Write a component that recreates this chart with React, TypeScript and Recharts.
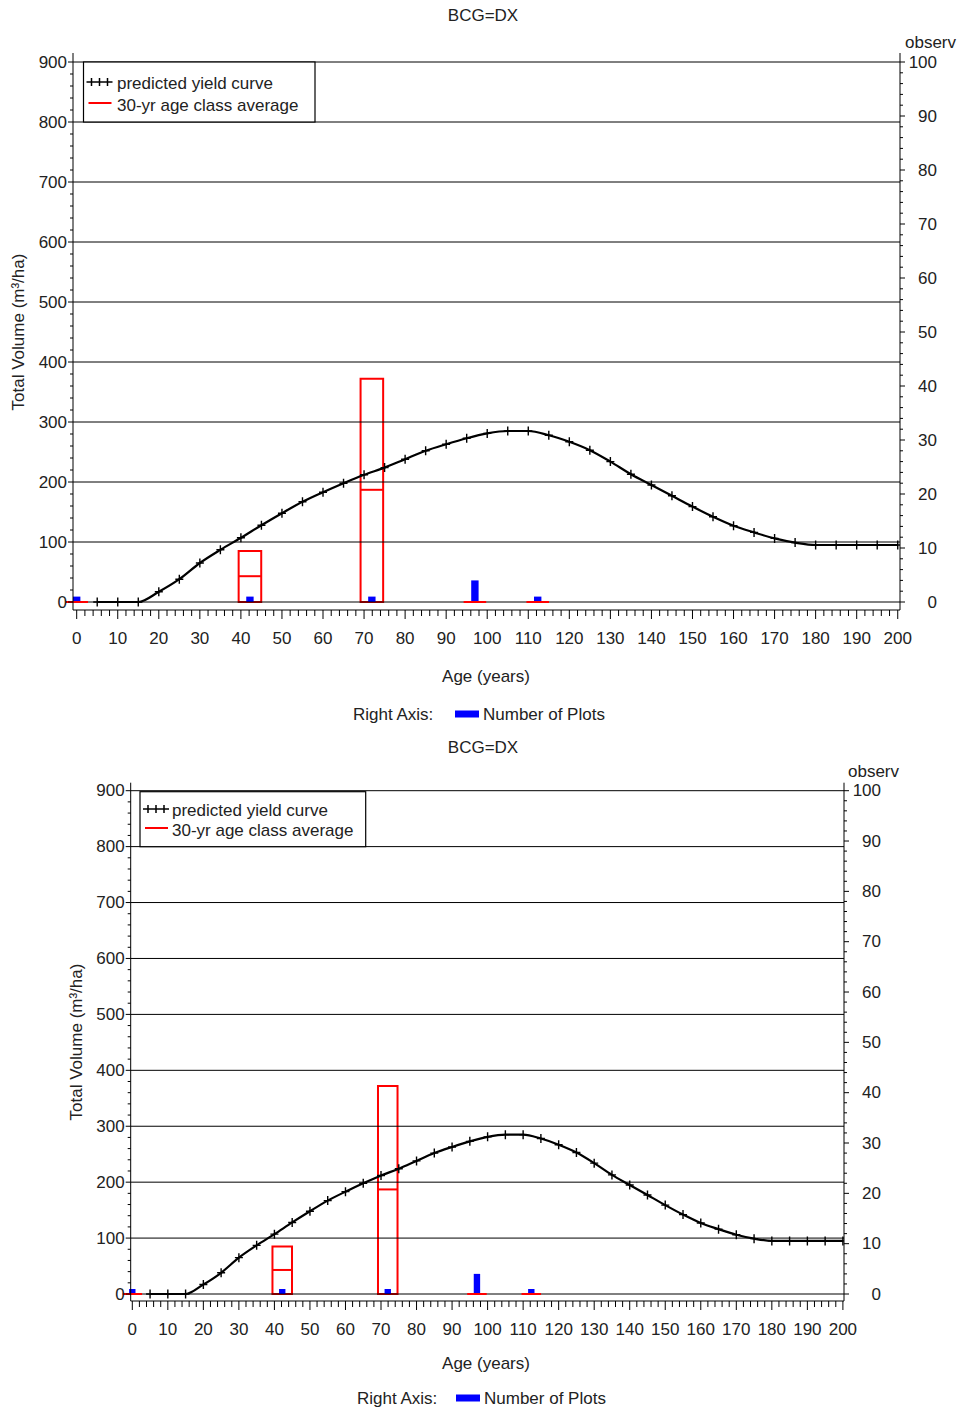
import React from 'react';
import { ComposedChart, Line, XAxis, YAxis, ReferenceLine, ReferenceArea } from 'recharts';

// predicted yield curve, one marker every 5 years
const ages = [5, 10, 15, 20, 25, 30, 35, 40, 45, 50, 55, 60, 65, 70, 75, 80, 85, 90, 95, 100, 105, 110, 115, 120, 125, 130, 135, 140, 145, 150, 155, 160, 165, 170, 175, 180, 185, 190, 195, 200];
const predictedVolume = [0, 0, 0, 17, 38, 65, 87, 107, 128, 148, 167, 183, 198, 212, 224, 238, 252, 263, 273, 281, 285, 285, 278, 267, 253, 234, 213, 195, 177, 159, 142, 127, 116, 106, 99, 95, 95, 95, 95, 95];

// 30-yr age class boxes (left axis) and plot counts (right axis)
const classAges = [0, 42.2, 71.9, 97, 112.3];
const classLow = [0, 0, 0, 0, 0];
const classHigh = [0, 85, 372, 0, 0];
const classMean = [0, 43, 187, 0, 0];
const plotCounts = [1, 1, 1, 4, 1];

const xTickLabels = [0, 10, 20, 30, 40, 50, 60, 70, 80, 90, 100, 110, 120, 130, 140, 150, 160, 170, 180, 190, 200];
const leftTickLabels = [0, 100, 200, 300, 400, 500, 600, 700, 800, 900];
const rightTickLabels = [0, 10, 20, 30, 40, 50, 60, 70, 80, 90, 100];

const FONT = '"Liberation Sans", Arial, sans-serif';
const INK = '#222';
const BOX_HALF = 2.75;
const BAR_HALF = 0.9;

const curveData = ages.map((age, i) => ({ age, volume: predictedVolume[i] }));

const steps = (from: number, to: number, step: number) => {
  const out: number[] = [];
  for (let v = from; v <= to; v += step) out.push(v);
  return out;
};
const xTicks = steps(xTickLabels[0], xTickLabels[xTickLabels.length - 1], 2);
const leftTicks = steps(leftTickLabels[0], leftTickLabels[leftTickLabels.length - 1], 20);
const rightTicks = steps(rightTickLabels[0], rightTickLabels[rightTickLabels.length - 1], 2);

const panels = [
  {
    top: 0,
    plotLeft: 73, plotRight: 900, plotTop: 53, plotBottom: 610,
    xDomain: [-0.9, 200.55], leftDomain: [-13.33, 915], rightDomain: [-1.481, 101.667],
    title: [483, 15], observ: [905, 42], yLabel: [18, 332], xLabel: [486, 676],
    rightAxis: [353, 714, 455, 483],
    legend: { x: 83.5, y: 62, w: 231.5, h: 60, r1: 82, r2: 103, text: 117 },
  },
  {
    top: 730,
    plotLeft: 130.7, plotRight: 844, plotTop: 782.7, plotBottom: 1301,
    xDomain: [-0.45, 200.31], leftDomain: [-12.5, 914.3], rightDomain: [-1.389, 101.589],
    title: [483, 747], observ: [848, 771], yLabel: [76, 1042], xLabel: [486, 1363],
    rightAxis: [357, 1398, 456, 484],
    legend: { x: 140, y: 791.7, w: 225.7, h: 55, r1: 809, r2: 828, text: 172 },
  },
];

const FS = 17;

const textProps = { fontSize: FS, fontFamily: FONT, fill: INK, dominantBaseline: 'central' as const };

const renderXTick = (p: any) => {
  const v = p.payload.value;
  const major = v % 10 === 0;
  return (
    <g key={`xt-${v}`}>
      <line x1={p.x} x2={p.x} y1={p.y} y2={p.y + (major ? 9 : 6)} stroke="#000" />
      {major && (
        <text x={p.x} y={p.y + 28} textAnchor="middle" {...textProps}>
          {v}
        </text>
      )}
    </g>
  );
};

const renderLeftTick = (p: any) => {
  const v = p.payload.value;
  const major = v % 100 === 0;
  return (
    <g key={`lt-${v}`}>
      <line x1={p.x} x2={p.x - (major ? 5 : 3)} y1={p.y} y2={p.y} stroke="#000" />
      {major && (
        <text x={p.x - 6} y={p.y} textAnchor="end" {...textProps}>
          {v}
        </text>
      )}
    </g>
  );
};

const renderRightTick = (p: any) => {
  const v = p.payload.value;
  const major = v % 10 === 0;
  return (
    <g key={`rt-${v}`}>
      <line x1={p.x} x2={p.x + (major ? 5 : 3)} y1={p.y} y2={p.y} stroke="#000" />
      {major && (
        <text x={p.x + 37} y={p.y} textAnchor="end" {...textProps}>
          {v}
        </text>
      )}
    </g>
  );
};

const plusDot = (p: any) => (
  <path
    key={`dot-${p.index}`}
    d={`M${p.cx - 4},${p.cy}h8M${p.cx},${p.cy - 4.5}v9`}
    stroke="#000"
    strokeWidth={1.4}
    fill="none"
  />
);

function Panel({ cfg }: { cfg: (typeof panels)[number] }) {
  const height = cfg.plotBottom - cfg.top + 45;
  return (
    <div style={{ position: 'absolute', left: 0, top: cfg.top, width: 961, height }}>
      <ComposedChart
        width={961}
        height={height}
        data={curveData}
        margin={{ top: cfg.plotTop - cfg.top, right: 0, bottom: 0, left: 0 }}
      >
        <XAxis
          dataKey="age"
          type="number"
          domain={cfg.xDomain}
          allowDataOverflow
          ticks={xTicks}
          interval={0}
          height={45}
          tickSize={0}
          tickMargin={0}
          tickLine={false}
          axisLine={{ stroke: '#000' }}
          tick={renderXTick}
        />
        <XAxis
          xAxisId="top"
          orientation="top"
          type="number"
          domain={cfg.xDomain}
          allowDataOverflow
          height={0}
          tick={false}
          tickLine={false}
          axisLine={{ stroke: '#000' }}
        />
        <YAxis
          yAxisId="left"
          orientation="left"
          type="number"
          width={cfg.plotLeft}
          domain={cfg.leftDomain}
          allowDataOverflow
          ticks={leftTicks}
          interval={0}
          tickSize={0}
          tickMargin={0}
          tickLine={false}
          axisLine={{ stroke: '#000' }}
          tick={renderLeftTick}
        />
        <YAxis
          yAxisId="right"
          orientation="right"
          type="number"
          width={961 - cfg.plotRight}
          domain={cfg.rightDomain}
          allowDataOverflow
          ticks={rightTicks}
          interval={0}
          tickSize={0}
          tickMargin={0}
          tickLine={false}
          axisLine={{ stroke: '#000' }}
          tick={renderRightTick}
        />

        {leftTickLabels.map((v) => (
          <ReferenceLine key={`grid-${v}`} yAxisId="left" y={v} stroke="#000" strokeWidth={1} />
        ))}

        {classAges.map((a, i) =>
          classHigh[i] > classLow[i] ? (
            <ReferenceArea
              key={`box-${i}`}
              yAxisId="left"
              x1={a - BOX_HALF}
              x2={a + BOX_HALF}
              y1={classLow[i]}
              y2={classHigh[i]}
              fill="none"
              fillOpacity={0}
              stroke="#ff0000"
              strokeWidth={2}
              ifOverflow="visible"
            />
          ) : null
        )}
        {classAges.map((a, i) => (
          <ReferenceLine
            key={`mean-${i}`}
            yAxisId="left"
            segment={[
              { x: a - BOX_HALF, y: classMean[i] },
              { x: a + BOX_HALF, y: classMean[i] },
            ]}
            stroke="#ff0000"
            strokeWidth={2}
            ifOverflow="visible"
          />
        ))}

        <Line
          yAxisId="left"
          dataKey="volume"
          type="monotone"
          stroke="#000"
          strokeWidth={2.2}
          dot={plusDot}
          activeDot={false}
          isAnimationActive={false}
        />

        {classAges.map((a, i) => (
          <ReferenceArea
            key={`bar-${i}`}
            yAxisId="right"
            x1={a - BAR_HALF}
            x2={a + BAR_HALF}
            y1={0}
            y2={plotCounts[i]}
            fill="#0000ff"
            fillOpacity={1}
            stroke="none"
            ifOverflow="visible"
          />
        ))}
      </ComposedChart>
    </div>
  );
}

function Texts({ cfg }: { cfg: (typeof panels)[number] }) {
  const L = cfg.legend;
  const [rx, ry, bx, nx] = cfg.rightAxis;
  return (
    <g>
      <text x={cfg.title[0]} y={cfg.title[1]} textAnchor="middle" {...textProps}>BCG=DX</text>
      <text x={cfg.observ[0]} y={cfg.observ[1]} textAnchor="start" {...textProps}>observ</text>
      <text
        x={cfg.yLabel[0]}
        y={cfg.yLabel[1]}
        textAnchor="middle"
        transform={`rotate(-90 ${cfg.yLabel[0]} ${cfg.yLabel[1]})`}
        {...textProps}
      >
        Total Volume (m³/ha)
      </text>
      <text x={cfg.xLabel[0]} y={cfg.xLabel[1]} textAnchor="middle" {...textProps}>Age (years)</text>
      <text x={rx} y={ry} textAnchor="start" {...textProps}>Right Axis:</text>
      <rect x={bx} y={ry - 3.5} width={24} height={7} fill="#0000ff" />
      <text x={nx} y={ry} textAnchor="start" {...textProps}>Number of Plots</text>

      <rect x={L.x} y={L.y} width={L.w} height={L.h} fill="#fff" stroke="#000" strokeWidth={1.2} />
      <path
        d={`M${L.x + 3},${L.r1}h26M${L.x + 8},${L.r1 - 4}v8M${L.x + 16},${L.r1 - 4}v8M${L.x + 24},${L.r1 - 4}v8`}
        stroke="#000"
        strokeWidth={1.5}
      />
      <text x={L.text} y={L.r1 + 1} textAnchor="start" {...textProps}>predicted yield curve</text>
      <line x1={L.x + 5} x2={L.x + 28} y1={L.r2} y2={L.r2} stroke="#ff0000" strokeWidth={2} />
      <text x={L.text} y={L.r2 + 2} textAnchor="start" {...textProps}>30-yr age class average</text>
    </g>
  );
}

export default function App() {
  return (
    <div style={{ position: 'absolute', left: 0, top: 0, width: 961, height: 1411, background: '#fff' }}>
      {panels.map((cfg, i) => (
        <Panel key={i} cfg={cfg} />
      ))}
      <svg
        width={961}
        height={1411}
        style={{ position: 'absolute', left: 0, top: 0, pointerEvents: 'none' }}
      >
        {panels.map((cfg, i) => (
          <Texts key={i} cfg={cfg} />
        ))}
      </svg>
    </div>
  );
}
